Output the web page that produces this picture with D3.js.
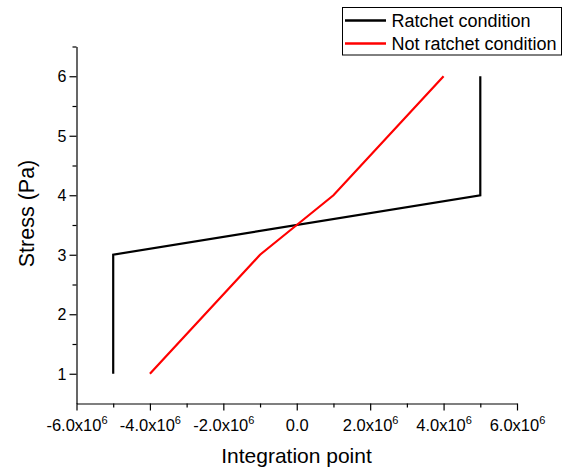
<!DOCTYPE html>
<html><head><meta charset="utf-8">
<script src="https://cdn.jsdelivr.net/npm/d3@7"></script>
<style>body{margin:0;background:#fff;} text{font-family:"Liberation Sans",Arial,sans-serif;}</style>
</head><body>
<svg id="c" width="571" height="468"></svg>
<script>
const ratchetX = [-5e6, -5e6, 5e6, 5e6];
const ratchetY = [1, 3, 4, 6];
const notRatchetX = [-4e6, -1e6, 0, 1e6, 4e6];
const notRatchetY = [1, 3, 3.5, 4, 6];
const xTicks = [-6e6, -4e6, -2e6, 0, 2e6, 4e6, 6e6];
const xTickMantissa = ["-6.0", "-4.0", "-2.0", "0.0", "2.0", "4.0", "6.0"];
const yTicks = [1, 2, 3, 4, 5, 6];
const seriesNames = ["Ratchet condition", "Not ratchet condition"];
const colors = ["#000000", "#ff0000"];

const svg = d3.select("#c");
const x = d3.scaleLinear().domain([-6e6, 6e6]).range([76.5, 517]);
const y = d3.scaleLinear().domain([0.5, 6.5]).range([403.5, 46.5]);

// minor ticks
const xMinor = d3.range(-5e6, 6e6, 2e6);
const yMinor = d3.range(1.5, 6.6, 1);
svg.append("g").attr("transform","translate(0,403.5)")
  .call(d3.axisBottom(x).tickValues(xMinor).tickSize(4).tickFormat(""))
  .call(g=>g.select(".domain").remove());
svg.append("g").attr("transform","translate(76.5,0)")
  .call(d3.axisLeft(y).tickValues(yMinor).tickSize(4).tickFormat(""))
  .call(g=>g.select(".domain").remove());

// x axis
const xa = svg.append("g").attr("transform","translate(0,403.5)")
  .call(d3.axisBottom(x).tickValues(xTicks).tickSize(7).tickSizeOuter(0).tickFormat(""));
xa.selectAll(".tick").each(function(d,i){
  const t = d3.select(this).append("text").attr("fill","#000").attr("y",27)
    .attr("font-size",16.5).attr("text-anchor","middle");
  if (d === 0) { t.text(xTickMantissa[i]); }
  else {
    t.append("tspan").text(xTickMantissa[i] + "x10");
    t.append("tspan").attr("dy",-7).attr("font-size",11).text("6");
  }
});
// y axis
svg.append("g").attr("transform","translate(76.5,0)")
  .call(d3.axisLeft(y).tickValues(yTicks).tickSize(7).tickSizeOuter(0).tickFormat(d3.format("d")))
  .call(g=>g.selectAll("text").attr("font-size",16).attr("x",-10).attr("dy","0.35em").attr("fill","#000"));

svg.selectAll(".domain, .tick line").attr("stroke","#000").attr("stroke-width",1.2);

// axis titles
svg.append("text").attr("x",296.5).attr("y",462.5).attr("text-anchor","middle")
  .attr("font-size",21).text("Integration point");
svg.append("text").attr("transform","translate(34,213.5) rotate(-90)").attr("text-anchor","middle")
  .attr("font-size",21.5).text("Stress (Pa)");

const line = d3.line().x(d=>x(d[0])).y(d=>y(d[1]));
const series = [d3.zip(ratchetX, ratchetY), d3.zip(notRatchetX, notRatchetY)];
series.forEach((s,i)=>{
  svg.append("path").datum(s).attr("d",line).attr("fill","none")
    .attr("stroke",colors[i]).attr("stroke-width",2.2).attr("stroke-linejoin","miter");
});

// legend
const lg = svg.append("g");
lg.append("rect").attr("x",342.5).attr("y",7.5).attr("width",219).attr("height",47.5)
  .attr("fill","#fff").attr("stroke","#000").attr("stroke-width",1);
seriesNames.forEach((n,i)=>{
  const yy = 20.5 + i*23;
  lg.append("line").attr("x1",345).attr("x2",386).attr("y1",yy).attr("y2",yy)
    .attr("stroke",colors[i]).attr("stroke-width",2.5);
  lg.append("text").attr("x",391.5).attr("y",yy+6.5).attr("font-size",18).text(n);
});
</script>
</body></html>
